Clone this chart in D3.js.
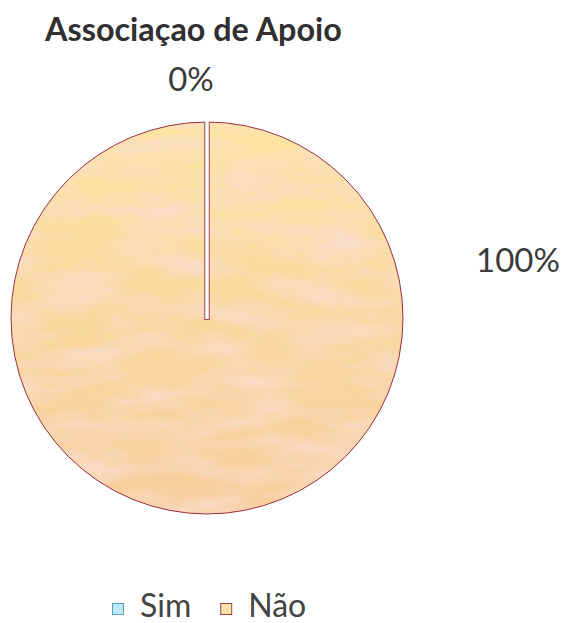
<!DOCTYPE html>
<html>
<head>
<meta charset="utf-8">
<script src="https://cdn.jsdelivr.net/npm/d3@7"></script>
<style>
  body { margin: 0; background: #fff; }
  text { font-family: Lato, "Open Sans", sans-serif; fill: #3a3a3a; }
</style>
</head>
<body>
<svg class="pieChart"></svg>
<script>
var categories = ['Sim', 'Não'];
var values = [0, 100];
var percentLabels = ['0%', '100%'];
var chartTitle = 'Associaçao de Apoio';

var width = 564, height = 623;
var cx = 207, cy = 318, radius = 196;

var fills = ['#bfe8f8', 'url(#naoFill)'];
var legendFills = ['#bfe8f8', '#fbe3a6'];
var legendStrokes = ['#5a9cc0', '#a0404a'];

var svg = d3.select('.pieChart')
  .attr('width', width)
  .attr('height', height)
  .attr('viewBox', '0 0 ' + width + ' ' + height);

var defs = svg.append('defs');

// soft yellow-to-peach fill, like the printed chart
var grad = defs.append('linearGradient')
  .attr('id', 'naoFill')
  .attr('x1', 0).attr('y1', 0).attr('x2', 0).attr('y2', 1);
grad.append('stop').attr('offset', '0%').attr('stop-color', '#fbe5a2');
grad.append('stop').attr('offset', '45%').attr('stop-color', '#f9d99f');
grad.append('stop').attr('offset', '100%').attr('stop-color', '#f7cd9c');

// blotchy scan texture on top of the fill
var mottle = defs.append('filter')
  .attr('id', 'mottle')
  .attr('x', 0).attr('y', 0).attr('width', '100%').attr('height', '100%');
mottle.append('feTurbulence')
  .attr('type', 'fractalNoise')
  .attr('baseFrequency', '0.012 0.05')
  .attr('numOctaves', 3)
  .attr('seed', 7)
  .attr('result', 'n');
mottle.append('feColorMatrix')
  .attr('in', 'n')
  .attr('type', 'matrix')
  .attr('values', '0 0 0 0 0.95  0 0 0 0 0.72  0 0 0 0 0.60  0 0 0 1.8 -0.62')
  .attr('result', 'c');
mottle.append('feComposite')
  .attr('in', 'c')
  .attr('in2', 'SourceGraphic')
  .attr('operator', 'in');

// title, fitted to the printed width
var title = svg.append('text')
  .attr('x', 45)
  .attr('y', 41)
  .style('font-weight', 'bold')
  .style('font-size', '33px')
  .style('fill', '#303030')
  .text(chartTitle);
var tw = title.node().getComputedTextLength();
title.style('font-size', (33 * 297 / tw) + 'px');

var pie = d3.pie().sort(null).value(function(d) { return d; });
var arcs = pie(values);

var arc = d3.arc().innerRadius(0).outerRadius(radius);

var g = svg.append('g')
  .attr('transform', 'translate(' + cx + ',' + cy + ')');

g.selectAll('path.slice')
  .data(arcs)
  .enter()
  .append('path')
  .attr('class', 'slice')
  .attr('d', arc)
  .attr('fill', function(d, i) { return fills[i]; });

g.selectAll('path.texture')
  .data(arcs.filter(function(d) { return d.value > 0; }))
  .enter()
  .append('path')
  .attr('class', 'texture')
  .attr('d', arc)
  .attr('fill', '#000')
  .attr('filter', 'url(#mottle)');

g.selectAll('path.edge')
  .data(arcs)
  .enter()
  .append('path')
  .attr('class', 'edge')
  .attr('d', arc)
  .attr('fill', 'none')
  .attr('stroke', '#9a3040')
  .attr('stroke-width', 1);

// the empty "Sim" slice shows as a white slit from the centre
arcs.filter(function(d) { return d.value === 0; }).forEach(function(d) {
  var p = d3.pointRadial(d.startAngle, radius);
  g.append('line')
    .attr('x1', 0).attr('y1', 2)
    .attr('x2', p[0]).attr('y2', p[1])
    .attr('stroke', '#a04858')
    .attr('stroke-width', 5.5);
  g.append('line')
    .attr('x1', 0).attr('y1', 1)
    .attr('x2', p[0]).attr('y2', p[1] - 1)
    .attr('stroke', '#fff')
    .attr('stroke-width', 3.5);
});

// percentage labels
var labelArc = d3.arc().innerRadius(radius + 31).outerRadius(radius + 31);
svg.append('text')
  .attr('x', cx + labelArc.centroid(arcs[0])[0] - 16)
  .attr('y', cy + labelArc.centroid(arcs[0])[1])
  .attr('text-anchor', 'middle')
  .style('font-size', '33px')
  .text(percentLabels[0]);

svg.append('text')
  .attr('x', cx + radius + 115)
  .attr('y', cy - 46)
  .attr('text-anchor', 'middle')
  .style('font-size', '33px')
  .text(percentLabels[1]);

// legend
var lx = 112;
categories.forEach(function(c, i) {
  svg.append('rect')
    .attr('x', lx + 0.5)
    .attr('y', 603.5)
    .attr('width', 11)
    .attr('height', 11)
    .attr('fill', legendFills[i])
    .attr('stroke', legendStrokes[i])
    .attr('stroke-width', 1);
  var t = svg.append('text')
    .attr('x', lx + 28)
    .attr('y', 617)
    .style('font-size', '32px')
    .style('fill', '#444')
    .text(c);
  lx += 28 + t.node().getComputedTextLength() + 29;
});
</script>
</body>
</html>
